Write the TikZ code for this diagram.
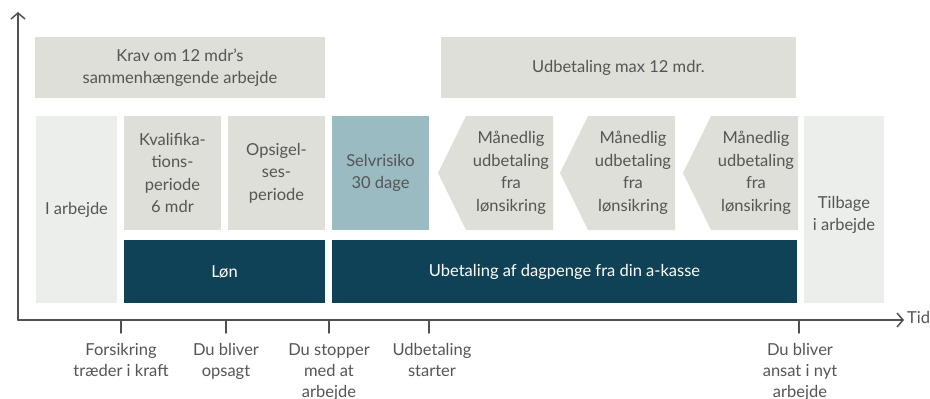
\documentclass[tikz,border=0pt]{standalone}
\usepackage{fontspec}
\setmainfont{Lato}
\usetikzlibrary{arrows.meta}
\definecolor{boxgray}{HTML}{DFDFD9}
\definecolor{boxlight}{HTML}{ECEEEC}
\definecolor{boxteal}{HTML}{9BBBC2}
\definecolor{boxnavy}{HTML}{0F4256}
\definecolor{txtgray}{HTML}{555555}
\definecolor{axisgray}{HTML}{505050}
\tikzset{
  box/.style={inner sep=0pt,align=center,text=txtgray,font=\fontsize{16.5}{22.5}\selectfont},
  graybox/.style={box,fill=boxgray},
  lightbox/.style={box,fill=boxlight},
  tealbox/.style={box,fill=boxteal},
  navybox/.style={box,fill=boxnavy,text=white},
  ticklabel/.style={anchor=north,align=center,inner sep=0pt,text=txtgray,font=\fontsize{16.5}{21}\selectfont},
}
\begin{document}
\begin{tikzpicture}[x=1pt,y=-1pt,line cap=round,line join=round]
\useasboundingbox (0,0) rectangle (930,399);
% axes
\coordinate (o) at (18,320);
\coordinate (ytop) at (18,12);
\coordinate (xend) at (904,320);
\draw [axisgray,line width=1.5pt,-{Straight Barb[length=6pt,width=14pt]}] (o)-- (ytop);
\draw [axisgray,line width=1.5pt,-{Straight Barb[length=6pt,width=14pt]}] (o)-- (xend);
\node [text=txtgray,font=\fontsize{16.5}{18}\selectfont,anchor=west,inner sep=0pt] (tid) at (907,317) {Tid};
% top row
\node [graybox,minimum width=290,minimum height=61] (krav) at (180,67.5) {Krav om 12 mdr’s\\sammenhængende arbejde};
\node [graybox,minimum width=355,minimum height=61] (maks) at (618.5,67.5) {Udbetaling max 12 mdr.};
% middle row
\node [lightbox,minimum width=81,minimum height=187] (iarb) at (76.5,209.5) {I arbejde};
\node [graybox,minimum width=97,minimum height=114] (kval) at (172.5,173) {Kvalifika-\\tions-\\periode\\6 mdr};
\node [graybox,minimum width=97,minimum height=114] (opsig) at (276.5,173) {Opsigel-\\ses-\\periode};
\node [tealbox,minimum width=97,minimum height=114] (selv) at (380.5,173) {Selvrisiko\\30 dage};
\foreach \i/\x in {1/438,2/560,3/683}{
  \fill [boxgray] (\x,173)-- (\x+28,116)-- (\x+115,116)-- (\x+115,230)-- (\x+28,230)-- cycle;
  \node [box] (mnd\i) at (\x+73,173) {Månedlig\\udbetaling\\fra\\lønsikring};
}
\node [lightbox,minimum width=80,minimum height=187] (tilb) at (844,209.5) {\\Tilbage\\i arbejde};
% bottom row
\node [navybox,minimum width=201,minimum height=63] (lon) at (224.5,271.5) {Løn};
\node [navybox,minimum width=465,minimum height=63] (dagp) at (564.5,271.5) {Ubetaling af dagpenge fra din a-kasse};
% ticks
\foreach \n/\x in {a/121,b/226,c/329,d/429,e/799}{
  \coordinate (t\n) at (\x,320);
  \coordinate (b\n) at (\x,333);
  \draw [axisgray,line width=1.5pt] (t\n)-- (b\n);
}
\node [ticklabel] (la) at (121,343) {Forsikring\\træder i kraft};
\node [ticklabel] (lb) at (226,343) {Du bliver\\opsagt};
\node [ticklabel] (lc) at (329,343) {Du stopper\\med at\\arbejde};
\node [ticklabel] (ld) at (432,343) {Udbetaling\\starter};
\node [ticklabel] (le) at (800,343) {Du bliver\\ansat i nyt\\arbejde};
\end{tikzpicture}
\end{document}
